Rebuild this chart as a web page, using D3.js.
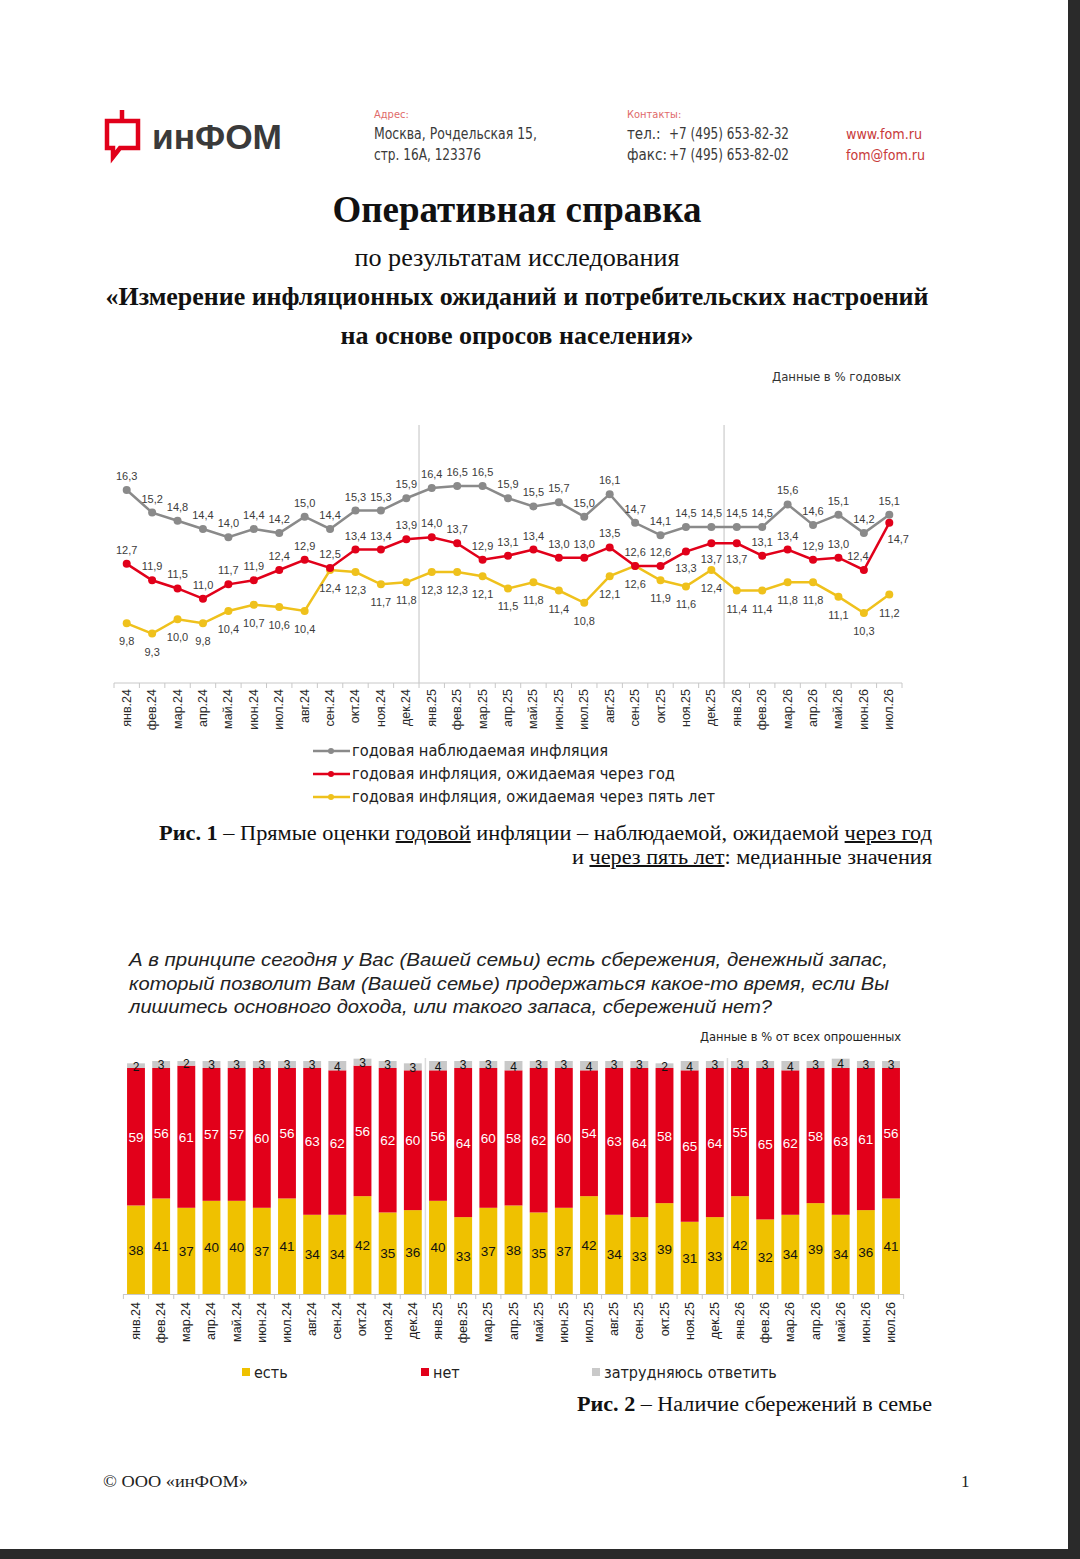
<!DOCTYPE html>
<html>
<head>
<meta charset="utf-8">
<script src="https://cdn.jsdelivr.net/npm/d3@7/dist/d3.min.js"></script>
<style>
  body { margin: 0; background: #fff; }
  svg text { font-family: "Liberation Sans", Arial, sans-serif; }
  svg text.serif { font-family: "Liberation Serif", "Times New Roman", serif; }
  svg text.narrow { font-family: "Liberation Sans Narrow", "DejaVu Sans Condensed", "Liberation Sans", sans-serif; }
</style>
</head>
<body>
<div id="page"></div>
<script>
// months on both charts
var months = ["янв.24","фев.24","мар.24","апр.24","май.24","июн.24","июл.24","авг.24","сен.24","окт.24","ноя.24","дек.24",
  "янв.25","фев.25","мар.25","апр.25","май.25","июн.25","июл.25","авг.25","сен.25","окт.25","ноя.25","дек.25",
  "янв.26","фев.26","мар.26","апр.26","май.26","июн.26","июл.26"];

// Fig. 1 - medians, % per year
var observed = [16.3,15.2,14.8,14.4,14.0,14.4,14.2,15.0,14.4,15.3,15.3,15.9,
  16.4,16.5,16.5,15.9,15.5,15.7,15.0,16.1,14.7,14.1,14.5,14.5,
  14.5,14.5,15.6,14.6,15.1,14.2,15.1];
var expYear = [12.7,11.9,11.5,11.0,11.7,11.9,12.4,12.9,12.5,13.4,13.4,13.9,
  14.0,13.7,12.9,13.1,13.4,13.0,13.0,13.5,12.6,12.6,13.3,13.7,
  13.7,13.1,13.4,12.9,13.0,12.4,14.7];
var expFive = [9.8,9.3,10.0,9.8,10.4,10.7,10.6,10.4,12.4,12.3,11.7,11.8,
  12.3,12.3,12.1,11.5,11.8,11.4,10.8,12.1,12.6,11.9,11.6,12.4,
  11.4,11.4,11.8,11.8,11.1,10.3,11.2];
// red labels that sit under the point
var expYearBelow = ["ноя.25","дек.25","янв.26","июл.26"];

// Fig. 2 - savings, % of all respondents
var savYes  = [38,41,37,40,40,37,41,34,34,42,35,36, 40,33,37,38,35,37,42,34,33,39,31,33, 42,32,34,39,34,36,41];
var savNo   = [59,56,61,57,57,60,56,63,62,56,62,60, 56,64,60,58,62,60,54,63,64,58,65,64, 55,65,62,58,63,61,56];
var savHard = [2,3,2,3,3,3,3,3,4,3,3,3, 4,3,3,4,3,3,4,3,3,2,4,3, 3,3,4,3,4,3,3];

var GREY = "#8a8a8a", RED = "#e1001a", YEL = "#efc11c";
var BAR_YEL = "#efc100", BAR_RED = "#e2001a", BAR_GREY = "#c9c9c9";

var svg = d3.select("#page").append("svg")
  .attr("width", 1080)
  .attr("height", 1559);

// page edges like the scan
svg.append("rect").attr("x", 1068).attr("y", 0).attr("width", 12).attr("height", 1559).attr("fill", "#2a2a2a");
svg.append("rect").attr("x", 0).attr("y", 1549).attr("width", 1080).attr("height", 10).attr("fill", "#2a2a2a");

function txt(x, y, s, size, opts) {
  opts = opts || {};
  var t = svg.append("text")
    .attr("x", x).attr("y", y)
    .attr("font-size", size)
    .attr("fill", opts.fill || "#222")
    .attr("text-anchor", opts.anchor || "start")
    .text(s);
  if (opts.cls) t.attr("class", opts.cls);
  if (opts.bold) t.attr("font-weight", "bold");
  if (opts.italic) t.attr("font-style", "italic");
  if (opts.len) t.attr("textLength", opts.len).attr("lengthAdjust", "spacingAndGlyphs");
  return t;
}

// ---- header ----
svg.append("path")
  .attr("d", "M122,110 L122,121 L138,121 L138,148 L120,148 L113,157 L113,148 L107,148 L107,121 L122,121")
  .attr("fill", "none").attr("stroke", "#e1001a").attr("stroke-width", 4.5).attr("stroke-linejoin", "miter");
txt(152, 149, "инФОМ", 35, {bold: true, fill: "#3a3a3a", len: 130});

txt(374, 118, "Адрес:", 11, {fill: "#e06a6a", cls: "narrow"});
txt(374, 139, "Москва, Рочдельская 15,", 15, {fill: "#3a3a3a", cls: "narrow", len: 163});
txt(374, 160, "стр. 16А, 123376", 15, {fill: "#3a3a3a", cls: "narrow", len: 107});
txt(627, 118, "Контакты:", 11, {fill: "#e06a6a", cls: "narrow"});
txt(627, 139, "тел.:", 15, {fill: "#3a3a3a", cls: "narrow"});
txt(669, 139, "+7 (495) 653-82-32", 15, {fill: "#3a3a3a", cls: "narrow", len: 120});
txt(627, 160, "факс:", 15, {fill: "#3a3a3a", cls: "narrow"});
txt(669, 160, "+7 (495) 653-82-02", 15, {fill: "#3a3a3a", cls: "narrow", len: 120});
txt(846, 139, "www.fom.ru", 14, {fill: "#c83a3a", cls: "narrow", len: 76});
txt(846, 160, "fom@fom.ru", 14, {fill: "#c83a3a", cls: "narrow", len: 79});

txt(517, 222, "Оперативная справка", 38, {anchor: "middle", bold: true, cls: "serif", fill: "#111", len: 369});
txt(517, 266, "по результатам исследования", 25, {anchor: "middle", cls: "serif", fill: "#111", len: 325});
txt(517, 305, "«Измерение инфляционных ожиданий и потребительских настроений", 25, {anchor: "middle", bold: true, cls: "serif", fill: "#111", len: 823});
txt(517, 344, "на основе опросов населения»", 25, {anchor: "middle", bold: true, cls: "serif", fill: "#111", len: 353});

// ---- Fig. 1: line chart ----
txt(901, 381, "Данные в % годовых", 12, {anchor: "end", fill: "#333", cls: "narrow", len: 129});

var x1 = d3.scaleBand().domain(months).range([114, 902]);
var y1 = d3.scaleLinear().domain([8, 17]).range([660.2, 475.7]);
var cx = function (m) { return x1(m) + x1.bandwidth() / 2; };

var g1 = svg.append("g");

// year separators
[12, 24].forEach(function (i) {
  g1.append("line")
    .attr("x1", x1(months[i])).attr("x2", x1(months[i]))
    .attr("y1", 425).attr("y2", 683)
    .attr("stroke", "#d6d6d6").attr("stroke-width", 1.5);
});

// x axis with ticks between categories, labels rotated
g1.append("line").attr("x1", 114).attr("x2", 902).attr("y1", 683).attr("y2", 683)
  .attr("stroke", "#c8c8c8");
g1.selectAll(".tk1").data(months.concat(["end"])).enter().append("line")
  .attr("class", "tk1")
  .attr("x1", function (d, i) { return 114 + i * x1.step(); })
  .attr("x2", function (d, i) { return 114 + i * x1.step(); })
  .attr("y1", 683).attr("y2", 688)
  .attr("stroke", "#c8c8c8");
g1.selectAll(".lab1").data(months).enter().append("text")
  .attr("class", "lab1")
  .attr("transform", function (d) { return "translate(" + (cx(d) + 4) + ",689) rotate(-90)"; })
  .attr("text-anchor", "end")
  .attr("font-size", 12.5)
  .attr("fill", "#2a2a2a")
  .text(function (d) { return d; });

var series = [
  {name: "годовая наблюдаемая  инфляция", values: observed, color: GREY, len: 256},
  {name: "годовая инфляция,  ожидаемая  через год", values: expYear, color: RED, len: 323},
  {name: "годовая инфляция,  ожидаемая  через пять лет", values: expFive, color: YEL, len: 363}
];

var line = d3.line()
  .x(function (d) { return cx(d.m); })
  .y(function (d) { return y1(d.v); });

// draw yellow first, then red, then grey on top
series.slice().reverse().forEach(function (s) {
  var pts = s.values.map(function (v, i) { return {m: months[i], v: v}; });
  g1.append("path").datum(pts)
    .attr("d", line)
    .attr("fill", "none")
    .attr("stroke", s.color)
    .attr("stroke-width", 2.5);
  g1.selectAll(null).data(pts).enter().append("circle")
    .attr("cx", function (d) { return cx(d.m); })
    .attr("cy", function (d) { return y1(d.v); })
    .attr("r", 4)
    .attr("fill", s.color);
});

function fmt(v) { return v.toFixed(1).replace(".", ","); }

// value labels
series.forEach(function (s, k) {
  g1.selectAll(null).data(s.values).enter().append("text")
    .attr("x", function (d, i) {
      if (k === 1 && months[i] === "июл.26") return cx(months[i]) + 9;
      if (k === 1 && months[i] === "июн.26") return cx(months[i]) - 6;
      return cx(months[i]);
    })
    .attr("y", function (d, i) {
      if (k === 0) return y1(d) - 10;
      if (k === 2) return y1(d) + 22;
      return expYearBelow.indexOf(months[i]) >= 0 ? y1(d) + 20 : y1(d) - 10;
    })
    .attr("text-anchor", "middle")
    .attr("font-size", 11)
    .attr("fill", "#3c3c3c")
    .text(fmt);
});

// legend
series.forEach(function (s, k) {
  var ly = 751 + k * 23;
  g1.append("line").attr("x1", 313).attr("x2", 350).attr("y1", ly).attr("y2", ly)
    .attr("stroke", s.color).attr("stroke-width", 2.5);
  g1.append("circle").attr("cx", 331).attr("cy", ly).attr("r", 3).attr("fill", s.color);
  txt(352, ly + 5, s.name, 15, {fill: "#222", cls: "narrow", len: s.len});
});

// caption 1
var c1 = svg.append("text").attr("class", "serif").attr("x", 159).attr("y", 840)
  .attr("font-size", 20).attr("fill", "#111")
  .attr("textLength", 773).attr("lengthAdjust", "spacingAndGlyphs");
c1.append("tspan").attr("font-weight", "bold").text("Рис. 1");
c1.append("tspan").text(" – Прямые оценки ");
c1.append("tspan").attr("text-decoration", "underline").text("годовой");
c1.append("tspan").text(" инфляции – наблюдаемой, ожидаемой ");
c1.append("tspan").attr("text-decoration", "underline").text("через год");
var c2 = svg.append("text").attr("class", "serif").attr("x", 572).attr("y", 864)
  .attr("font-size", 20).attr("fill", "#111")
  .attr("textLength", 360).attr("lengthAdjust", "spacingAndGlyphs");
c2.append("tspan").text("и ");
c2.append("tspan").attr("text-decoration", "underline").text("через пять лет");
c2.append("tspan").text(": медианные значения");

// ---- Fig. 2: stacked bars ----
txt(129, 966, "А в принципе сегодня у Вас (Вашей семьи) есть сбережения, денежный запас,", 19, {italic: true, fill: "#222", len: 759});
txt(129, 990, "который позволит Вам (Вашей семье) продержаться какое-то время, если Вы", 19, {italic: true, fill: "#222", len: 760});
txt(129, 1013, "лишитесь основного дохода, или такого запаса, сбережений нет?", 19, {italic: true, fill: "#222", len: 643});
txt(901, 1041, "Данные в % от всех опрошенных", 12, {anchor: "end", fill: "#222", cls: "narrow", len: 201});

var x2 = d3.scaleBand().domain(months).range([123.4, 903.6]).paddingInner(0.29).paddingOuter(0.145);
var y2 = d3.scaleLinear().domain([0, 100]).range([1294, 1061]);

var rows = months.map(function (m, i) {
  return {m: m, yes: savYes[i], no: savNo[i], hard: savHard[i]};
});
var stack = d3.stack().keys(["yes", "no", "hard"])(rows);
var barColors = {yes: BAR_YEL, no: BAR_RED, hard: BAR_GREY};
var labColors = {yes: "#111", no: "#fff", hard: "#111"};

var g2 = svg.append("g");

[12, 24].forEach(function (i) {
  var sx = x2(months[i]) - (x2.step() - x2.bandwidth()) / 2;
  g2.append("line").attr("x1", sx).attr("x2", sx).attr("y1", 1058).attr("y2", 1296)
    .attr("stroke", "#dcdcdc").attr("stroke-width", 1.5);
});

stack.forEach(function (layer) {
  g2.selectAll(null).data(layer).enter().append("rect")
    .attr("x", function (d) { return x2(d.data.m); })
    .attr("y", function (d) { return y2(d[1]); })
    .attr("width", x2.bandwidth())
    .attr("height", function (d) { return y2(d[0]) - y2(d[1]); })
    .attr("fill", barColors[layer.key]);
  g2.selectAll(null).data(layer).enter().append("text")
    .attr("x", function (d) { return x2(d.data.m) + x2.bandwidth() / 2; })
    .attr("y", function (d) { return (y2(d[0]) + y2(d[1])) / 2 + 5; })
    .attr("text-anchor", "middle")
    .attr("font-size", layer.key === "hard" ? 12 : 13.5)
    .attr("fill", labColors[layer.key])
    .text(function (d) { return d.data[layer.key]; });
});

g2.append("line").attr("x1", 123).attr("x2", 904).attr("y1", 1294.5).attr("y2", 1294.5).attr("stroke", "#c8c8c8");
g2.selectAll(".tk2").data(months.concat(["end"])).enter().append("line")
  .attr("class", "tk2")
  .attr("x1", function (d, i) { return 123.4 + i * x2.step(); })
  .attr("x2", function (d, i) { return 123.4 + i * x2.step(); })
  .attr("y1", 1294).attr("y2", 1299)
  .attr("stroke", "#c8c8c8");
g2.selectAll(".lab2").data(months).enter().append("text")
  .attr("class", "lab2")
  .attr("transform", function (d) { return "translate(" + (x2(d) + x2.bandwidth() / 2 + 4) + ",1302) rotate(-90)"; })
  .attr("text-anchor", "end")
  .attr("font-size", 12.5)
  .attr("fill", "#222")
  .text(function (d) { return d; });

// legend
var leg2 = [
  {name: "есть", color: BAR_YEL, x: 242},
  {name: "нет", color: BAR_RED, x: 421},
  {name: "затрудняюсь ответить", color: BAR_GREY, x: 592}
];
leg2.forEach(function (l) {
  g2.append("rect").attr("x", l.x).attr("y", 1368).attr("width", 8).attr("height", 8).attr("fill", l.color);
  txt(l.x + 12, 1378, l.name, 16, {fill: "#222", cls: "narrow"});
});

// caption 2
var c3 = svg.append("text").attr("class", "serif").attr("x", 577).attr("y", 1411)
  .attr("font-size", 20).attr("fill", "#111")
  .attr("textLength", 355).attr("lengthAdjust", "spacingAndGlyphs");
c3.append("tspan").attr("font-weight", "bold").text("Рис. 2");
c3.append("tspan").text(" – Наличие сбережений в семье");

// footer
txt(103, 1487, "© ООО «инФОМ»", 17, {cls: "serif", fill: "#222", len: 145});
txt(961, 1487, "1", 17, {cls: "serif", fill: "#222"});
</script>
</body>
</html>
